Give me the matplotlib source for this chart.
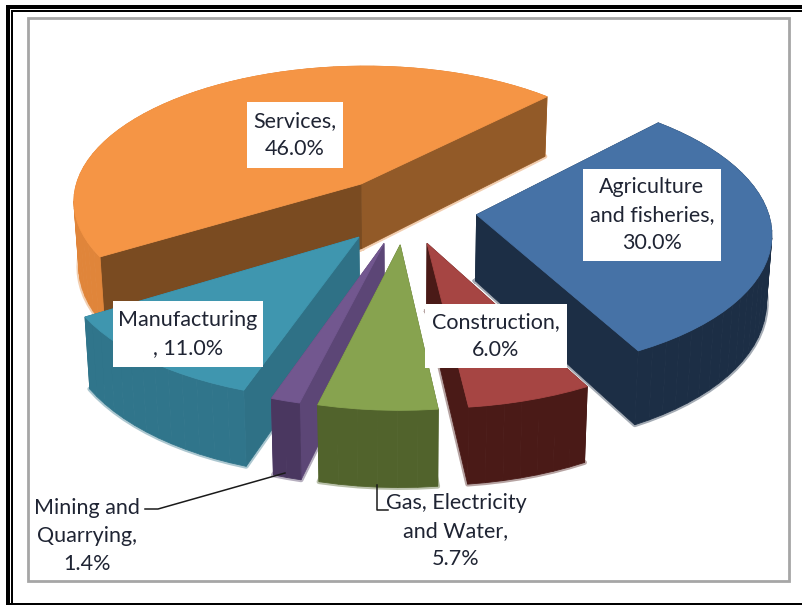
# 3D exploded pie of sector shares
import numpy as np
import matplotlib
matplotlib.use('Agg')
import matplotlib.pyplot as plt
from matplotlib.patches import Rectangle

plt.rcParams['font.family'] = ['Lato', 'DejaVu Sans']

# Data, clockwise from the start angle
sectors = ['Agriculture and fisheries', 'Construction', 'Gas, Electricity and Water',
           'Mining and Quarrying', 'Manufacturing', 'Services']
shares = [30.0, 6.0, 5.7, 1.4, 11.0, 46.0]

# top face, rim, wall on the first edge, wall on the last edge
top_colors = ['#4672A6', '#A64543', '#87A34F', '#72578F', '#3F96AF', '#F59545']
rim_colors = ['#1C2E45', '#4A1A17', '#51632C', '#4A3760', '#30758B', '#E0853A']
wall_a_colors = ['#1C2E45', '#4A1A17', '#51632C', '#5C4676', '#2F7186', '#925A28']
wall_b_colors = ['#1C2E45', '#4A1A17', '#51632C', '#5C4676', '#2F7186', '#7A4B21']

labels = ['Agriculture\nand fisheries,\n30.0%', 'Construction,\n6.0%', 'Gas, Electricity\nand Water,\n5.7%',
          'Mining and\nQuarrying,\n1.4%', 'Manufacturing\n, 11.0%', 'Services,\n46.0%']
label_pos = [(652, 215), (496, 336), (456, 531), (87, 536), (188, 334), (295, 135)]
label_box = [True, True, False, False, True, True]
box_pad = [(69, 46), (71, 32), None, None, (75, 33), (48, 33)]

# Projection settings
cx, cy = 405, 210
radius = 291
explode = 72
tilt = 0.472
persp = 0.0004
depth = 66
start_angle = 46

draw_order = [5, 0, 1, 4, 3, 2]


def project(x, y, low=False):
    s = 1 / (1 + persp * y)
    if low:
        return cx + 0.985 * s * x, cy - s * tilt * y + s * depth
    return cx + s * x, cy - s * tilt * y


fig = plt.figure(figsize=(8.03, 6.05), dpi=100)
ax = fig.add_axes([0, 0, 1, 1])
ax.set_xlim(0, 803)
ax.set_ylim(605, 0)
ax.axis('off')

# Outer frame and chart border
ax.add_patch(Rectangle((28, 18), 761, 563, fill=False, edgecolor='#A6A6A6', linewidth=2))
ax.add_patch(Rectangle((6, 5), 797, 3.5, color='black', linewidth=0))
ax.add_patch(Rectangle((11, 10), 792, 2, color='black', linewidth=0))
ax.add_patch(Rectangle((6, 5), 4, 600, color='black', linewidth=0))
ax.add_patch(Rectangle((11.5, 10), 1.2, 595, color='black', linewidth=0))
ax.add_patch(Rectangle((6, 603), 797, 2, color='black', linewidth=0))

# Slice angles come from the shares
total = sum(shares)
sweeps = [v / total * 360 for v in shares]
ends = start_angle - np.cumsum(sweeps)
starts = ends + np.array(sweeps)

for i in draw_order:
    t0, t1 = starts[i], ends[i]
    mid = np.radians((t0 + t1) / 2)
    ox = explode * np.cos(mid)
    oy = explode * np.sin(mid)
    th = np.radians(np.linspace(t0, t1, max(int(abs(t0 - t1) / 3), 2) + 1))
    rx = ox + radius * np.cos(th)
    ry = oy + radius * np.sin(th)

    # pale fringe along the bottom edge, as the faded source image has
    bx, by = project(np.concatenate([[ox], rx, [ox]]), np.concatenate([[oy], ry, [oy]]), True)
    ax.plot(bx, by, color=rim_colors[i], linewidth=3.5, alpha=0.4, zorder=1)

    # side faces, far ones first
    faces = []
    for (xa, ya), color in (((rx[0], ry[0]), wall_b_colors[i]), ((rx[-1], ry[-1]), wall_a_colors[i])):
        faces.append(((oy + ya) / 2, [(ox, oy, False), (xa, ya, False), (xa, ya, True), (ox, oy, True)], color))
    for k in range(len(th) - 1):
        faces.append(((ry[k] + ry[k + 1]) / 2,
                      [(rx[k], ry[k], False), (rx[k + 1], ry[k + 1], False),
                       (rx[k + 1], ry[k + 1], True), (rx[k], ry[k], True)], rim_colors[i]))
    for _, pts, color in sorted(faces, key=lambda f: -f[0]):
        px = [project(a, b, c) for a, b, c in pts]
        ax.fill([p[0] for p in px], [p[1] for p in px], color=color, linewidth=0.6)

    # top face
    tx = np.concatenate([[ox], rx])
    ty = np.concatenate([[oy], ry])
    sx, sy = project(tx, ty)
    ax.fill(sx, sy, color=top_colors[i], linewidth=0.6)

# Leader lines
ax.plot([145, 158, 285], [509, 509, 473], color='#1a1a1a', linewidth=1.1, zorder=5)
ax.plot([377, 377, 388], [485, 510, 510], color='#1a1a1a', linewidth=1.1, zorder=5)

# Labels
for i, text in enumerate(labels):
    x, y = label_pos[i]
    if label_box[i]:
        w, h = box_pad[i]
        ax.add_patch(Rectangle((x - w, y - h), 2 * w, 2 * h, color='white', linewidth=0, zorder=6))
    ax.text(x, y, text, ha='center', va='center', fontsize=15.5, color='#1f2433',
            linespacing=1.5, zorder=7)

fig.savefig('out.png', dpi=100)
